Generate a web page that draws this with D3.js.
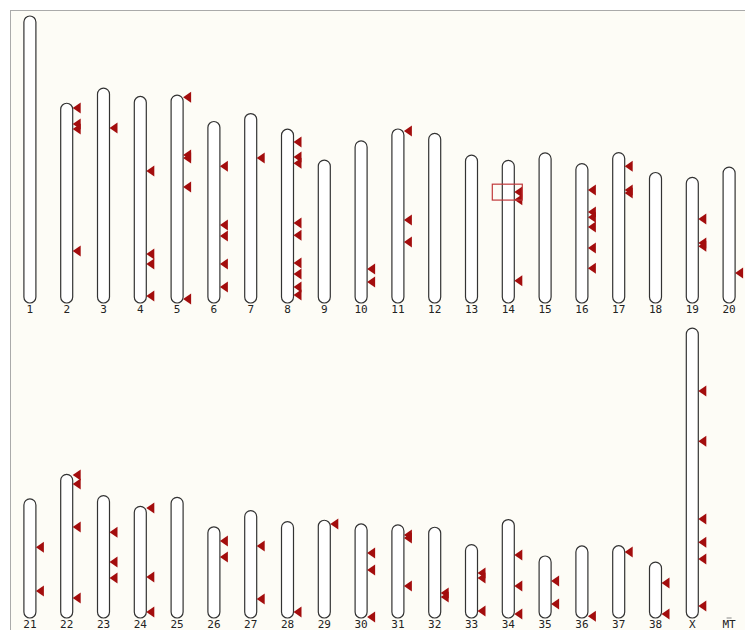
<!DOCTYPE html>
<html>
<head>
<meta charset="utf-8">
<script src="https://cdn.jsdelivr.net/npm/d3@7"></script>
<style>
  body { margin: 0; background: #fff; }
  svg { display: block; }
</style>
</head>
<body>
<div id="chart"></div>
<script>
// chromosome names and lengths (Mb)
const chromNames = ["1","2","3","4","5","6","7","8","9","10","11","12","13","14","15","16","17","18","19","20",
  "21","22","23","24","25","26","27","28","29","30","31","32","33","34","35","36","37","38","X","MT"];
const chromLengths = [122.7,85.4,91.9,88.3,88.9,77.6,81.0,74.3,61.1,69.3,74.4,72.5,63.2,61.0,64.2,59.6,64.3,55.8,53.7,58.1,
  50.9,61.4,52.3,47.7,51.6,39.0,45.9,41.2,41.8,40.2,39.8,38.8,31.4,42.1,26.5,30.8,30.9,23.9,123.9,0.02];

// markers: chromosome + position (Mb)
const markerChrom = ["2","2","2","2","3","4","4","4","4","5","5","5","5","5",
  "6","6","6","6","6","7","8","8","8","8","8","8","8","8","8","10","10","11","11","11",
  "14","14","14","16","16","16","16","16","16","17","17","17","19","19","19","20",
  "21","21","22","22","22","22","23","23","23","24","24","24","26","26","27","27","28","29",
  "30","30","30","31","31","31","32","32","33","33","33","34","34","34","35","35","36","37","38","38",
  "X","X","X","X","X","X"];
const markerPos = [2.0,8.9,11.0,63.2,17.1,31.9,67.4,71.6,85.3,0.9,25.6,26.9,39.3,87.2,
  19.1,44.3,49.0,60.9,70.8,19.0,5.5,11.9,14.5,40.1,45.3,57.2,61.9,67.5,70.9,54.8,60.3,0.9,38.9,48.3,
  13.5,16.9,51.5,11.3,20.7,22.9,27.1,36.1,44.7,5.8,16.0,17.3,17.8,28.1,29.4,45.3,
  20.6,39.4,0.3,4.1,22.5,52.9,15.6,28.4,35.2,0.7,30.2,45.1,6.1,12.9,15.1,37.8,38.6,1.6,
  12.4,19.7,39.8,4.3,5.6,26.1,28.1,29.8,12.2,14.3,28.4,15.2,28.4,40.4,10.7,20.5,30.0,2.7,8.9,22.2,
  26.9,48.3,81.6,91.5,98.7,118.8];

// highlighted region
const highlightChrom = "14";
const highlightRange = [10.2, 17.0];

const width = 745, height = 630;
const perRow = 20;
const baselines = [303, 618];

const svg = d3.select("#chart").append("svg")
  .attr("width", width).attr("height", height);

svg.append("rect")
  .attr("x", 10.5).attr("y", 10.5)
  .attr("width", width).attr("height", height)
  .attr("fill", "#fdfcf6")
  .attr("stroke", "#aaa");

const x = d3.scaleBand()
  .domain(d3.range(perRow))
  .range([11, 747]);

const k = d3.scaleLinear().domain([0, 122.7]).range([0, 287]);

const chroms = chromNames.map((name, i) => ({
  name, len: chromLengths[i],
  row: Math.floor(i / perRow), col: i % perRow
}));
const byName = new Map(chroms.map(c => [c.name, c]));
const cx = c => x(c.col) + x.bandwidth() / 2;
const chromTop = c => baselines[c.row] - k(c.len);
const posY = (c, p) => chromTop(c) + k(p);

const cw = 12;

const g = svg.append("g");

g.selectAll("rect.chrom")
  .data(chroms.filter(c => c.name !== "MT"))
  .join("rect")
  .attr("class", "chrom")
  .attr("x", c => cx(c) - cw / 2 + 0.5)
  .attr("y", c => chromTop(c))
  .attr("width", cw)
  .attr("height", c => k(c.len))
  .attr("rx", 6).attr("ry", 6)
  .attr("fill", "#fff")
  .attr("stroke", "#333")
  .attr("stroke-width", 1.2);

// MT is tiny
const mt = byName.get("MT");
g.append("line")
  .attr("x1", cx(mt) - 2).attr("x2", cx(mt) + 3)
  .attr("y1", baselines[1]).attr("y2", baselines[1])
  .attr("stroke", "#888");

g.selectAll("text.label")
  .data(chroms)
  .join("text")
  .attr("class", "label")
  .attr("x", c => cx(c) + 0.5)
  .attr("y", c => baselines[c.row] + 10)
  .attr("text-anchor", "middle")
  .attr("font-family", "DejaVu Sans Mono, monospace")
  .attr("font-size", 11)
  .attr("fill", "#222")
  .text(c => c.name);

const markers = markerChrom.map((ch, i) => ({ c: byName.get(ch), p: markerPos[i] }));

g.selectAll("path.marker")
  .data(markers)
  .join("path")
  .attr("class", "marker")
  .attr("d", m => {
    const xr = cx(m.c) + cw / 2 + 0.5;
    const y = posY(m.c, m.p);
    return `M${xr},${y}L${xr + 8},${y - 5.5}L${xr + 8},${y + 5.5}Z`;
  })
  .attr("fill", "#a30d0d");

const hc = byName.get(highlightChrom);
g.append("rect")
  .attr("x", cx(hc) - 15.5)
  .attr("y", posY(hc, highlightRange[0]))
  .attr("width", 30)
  .attr("height", k(highlightRange[1] - highlightRange[0]))
  .attr("fill", "none")
  .attr("stroke", "#c0393b")
  .attr("stroke-width", 1.2);
</script>
</body>
</html>
